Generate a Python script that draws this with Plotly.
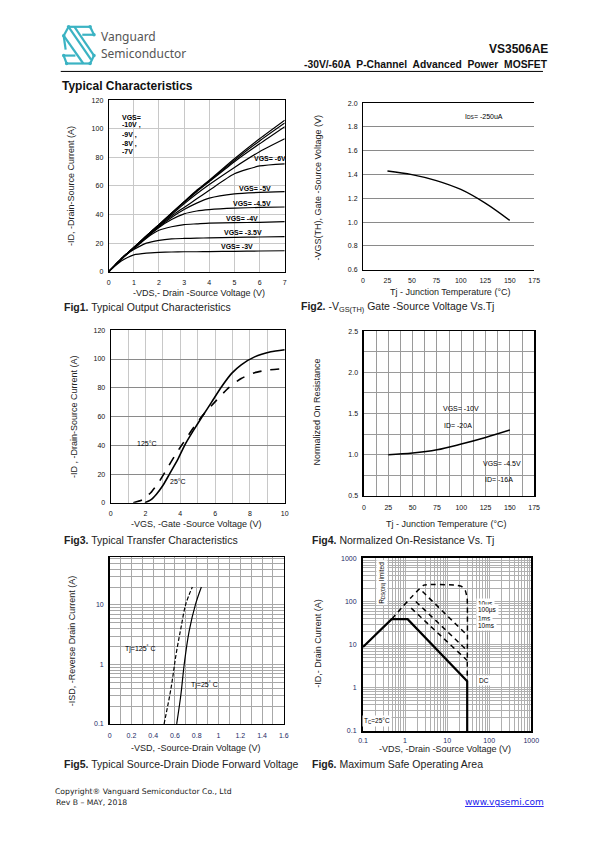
import math
import plotly.graph_objects as go

W, H = 595, 842

# ---------------- DATA ----------------
# Fig1: output characteristics
vds1 = [0, 0.25, 0.5, 0.75, 1, 1.5, 2, 2.5, 3, 3.5, 4, 5, 6, 7]
id_m10 = [0, 4.5, 9, 13, 17, 25, 33, 41, 49, 57, 64, 79, 93, 106]
id_m9 = [0, 4.5, 9, 13, 17, 25, 33, 41, 49, 56.5, 63.5, 78, 91.5, 104]
id_m8 = [0, 4.5, 9, 13, 17, 25, 33, 41, 48.5, 56, 63, 77, 89.5, 101.5]
id_m7 = [0, 4.5, 9, 13, 17, 25, 32.5, 40, 47.5, 54.5, 61, 73, 84, 93]
id_m6 = [0, 4.5, 9, 13, 16.5, 24.5, 32, 39, 45, 51, 57, 68.5, 74, 75.5]
id_m5 = [0, 4.5, 9, 13, 16.5, 24, 31.5, 38, 43.5, 48, 51.5, 54.5, 55.5, 56]
id_m45 = [0, 4.5, 9, 13, 16.5, 24, 31, 36.5, 40.5, 42.5, 43.5, 44.5, 45, 45.3]
id_m4 = [0, 4.5, 9, 13, 16, 23.5, 29, 31.5, 33, 33.5, 34, 34.3, 34.6, 35]
id_m35 = [0, 4.5, 8.5, 12.5, 15.5, 20, 22, 23, 23.3, 23.5, 23.7, 24, 24.3, 24.5]
id_m3 = [0, 4, 7.5, 10, 11.8, 13, 13.5, 13.8, 14, 14, 14.1, 14.3, 14.5, 14.7]
fig1_curves = [id_m10, id_m9, id_m8, id_m7, id_m6, id_m5, id_m45, id_m4, id_m35, id_m3]
fig1_labels = ["VGS= -6V", "VGS= -5V", "VGS= -4.5V", "VGS= -4V", "VGS= -3.5V", "VGS= -3V"]
fig1_label_x = [6.4, 5.8, 5.7, 5.3, 5.35, 5.1]
fig1_label_y = [79, 58.5, 48, 37.5, 27.5, 18]
fig1_stack = ["VGS=", "-10V ,", "-9V ,", "-8V ,", "-7V"]
fig1_stack_y = [108, 102.5, 96, 89.5, 84]

# Fig2: Vgs(th) vs Tj
tj2 = [25, 50, 75, 100, 125, 150]
vth2 = [1.43, 1.40, 1.35, 1.275, 1.16, 1.015]

# Fig3: transfer characteristics
vgs25 = [1.97, 2.3, 2.63, 3.0, 3.38, 3.85, 4.25, 4.74, 5.26, 5.8, 6.33, 6.95, 7.5, 8.27, 9.2, 10]
id25 = [0, 2, 6, 12, 20, 30, 40, 50, 60, 70, 80, 90, 96, 101.5, 105, 106.5]
vgs125 = [1.3, 1.8, 2.3, 2.8, 3.3, 3.8, 4.3, 4.8, 5.3, 5.98, 6.77, 7.5, 8.27, 9.0, 10]
id125 = [0, 2, 7, 15, 25, 35, 44, 53, 61, 70, 80, 86.5, 90.5, 92.3, 93.3]

# Fig4: normalized Rds(on)
tj4 = [25, 50, 75, 100, 125, 150]
rds4 = [1.0, 1.02, 1.06, 1.13, 1.21, 1.30]

# Fig5: diode forward voltage
vsd25 = [0.616, 0.655, 0.685, 0.73, 0.79, 0.843]
isd25 = [0.1, 0.316, 1.0, 3.6, 10.4, 20]
vsd125 = [0.5, 0.565, 0.61, 0.655, 0.70, 0.76]
isd125 = [0.1, 0.41, 1.47, 4.1, 10.4, 20]

# Fig6: SOA
dc_x = [0.1, 0.48, 1.15, 30, 30]
dc_y = [8.8, 39, 39, 1.42, 0.1]
us10_x = [0.48, 2.8, 16, 22, 27, 30, 30]
us10_y = [39, 240, 240, 225, 180, 120, 1.5]
us100_x = [2.6, 30]
us100_y = [170, 16.5]
ms1_x = [1.8, 30]
ms1_y = [100, 7.3]
ms10_x = [1.4, 30]
ms10_y = [70, 4.3]
soa_labels = ["10µs", "100µs", "1ms", "10ms"]
soa_label_y = [87, 62, 40, 28]

# ---------------- HELPERS ----------------
def xd(l, r):
    return [l / W, r / W]

def yd(t, b):
    return [1 - b / H, 1 - t / H]

def px(x):
    return x / W

def py(y):
    return 1 - y / H

NARROW = "Liberation Sans Narrow, Liberation Sans, Arial"
TICKFONT = dict(family=NARROW, size=7, color="#111")
NAVYFONT = dict(family=NARROW, size=7, color="#1c2a66")
LBLFONT = dict(family=NARROW, size=7, color="#000")
TITLEFONT = dict(family="Liberation Sans, Arial", size=9, color="#222")

def axis(domain, anchor, **kw):
    d = dict(domain=domain, anchor=anchor, showline=True, linecolor="black", linewidth=1,
             mirror=True, zeroline=False, ticks="outside", ticklen=4,
             tickcolor="rgba(0,0,0,0)", tickfont=TICKFONT, fixedrange=True)
    d.update(kw)
    return d

fig = go.Figure()

# Fig1 traces
for c in fig1_curves:
    fig.add_trace(go.Scatter(x=vds1, y=c, mode="lines",
                             line=dict(color="black", width=1.2, shape="spline", smoothing=0.6),
                             xaxis="x", yaxis="y", showlegend=False, hoverinfo="skip"))
# Fig2
fig.add_trace(go.Scatter(x=tj2, y=vth2, mode="lines", line=dict(color="black", width=1.3, shape="spline"),
                         xaxis="x2", yaxis="y2", showlegend=False))
# Fig3
fig.add_trace(go.Scatter(x=vgs25, y=id25, mode="lines",
                         line=dict(color="black", width=1.6, shape="spline", smoothing=0.5),
                         xaxis="x3", yaxis="y3", showlegend=False))
fig.add_trace(go.Scatter(x=vgs125, y=id125, mode="lines",
                         line=dict(color="black", width=1.6, dash="dash", shape="spline", smoothing=0.5),
                         xaxis="x3", yaxis="y3", showlegend=False))
# Fig4
fig.add_trace(go.Scatter(x=tj4, y=rds4, mode="lines", line=dict(color="black", width=1.5, shape="spline"),
                         xaxis="x4", yaxis="y4", showlegend=False))
# Fig5
fig.add_trace(go.Scatter(x=vsd25, y=isd25, mode="lines", line=dict(color="black", width=1.2, shape="spline"),
                         xaxis="x5", yaxis="y5", showlegend=False))
fig.add_trace(go.Scatter(x=vsd125, y=isd125, mode="lines",
                         line=dict(color="black", width=1.2, dash="4px,2px", shape="spline"),
                         xaxis="x5", yaxis="y5", showlegend=False))
# Fig6
for xs, ys in [(us10_x, us10_y), (us100_x, us100_y), (ms1_x, ms1_y), (ms10_x, ms10_y)]:
    fig.add_trace(go.Scatter(x=xs, y=ys, mode="lines",
                             line=dict(color="black", width=1.5, dash="5px,4px", shape="spline", smoothing=0.3),
                             xaxis="x6", yaxis="y6", showlegend=False))
fig.add_trace(go.Scatter(x=dc_x, y=dc_y, mode="lines", line=dict(color="black", width=2.2),
                         xaxis="x6", yaxis="y6", showlegend=False))

GRID = "#c8c8c8"
GRID2 = "#9a9a9a"
LOGG = "#b0b0b0"
fig.update_layout(
    width=W, height=H, margin=dict(l=0, r=0, t=0, b=0),
    paper_bgcolor="white", plot_bgcolor="white", showlegend=False,
    xaxis=axis(xd(106, 286), "y", range=[0, 7], dtick=1, tick0=0, showgrid=True, gridcolor=GRID),
    yaxis=axis(yd(97, 270), "x", range=[0, 120], dtick=20, tick0=0, showgrid=True, gridcolor=GRID, ticklen=3),
    xaxis2=axis(xd(366, 541), "y2", range=[0, 175], dtick=25, tick0=0, showgrid=False),
    yaxis2=axis(yd(100, 268), "x2", range=[0.6, 2.0], dtick=0.2, tick0=0.6, tickformat=".1f",
                showgrid=True, gridcolor="#8a8a8a", mirror=False, ticklen=3),
    xaxis3=axis(xd(108, 286), "y3", range=[0, 10], dtick=2, tick0=0, showgrid=True, gridcolor=GRID,
                minor=dict(dtick=1, tick0=0, showgrid=True, gridcolor=GRID)),
    yaxis3=axis(yd(329, 503), "x3", range=[0, 120], dtick=20, tick0=0, showgrid=True, gridcolor="#8a8a8a", ticklen=3),
    xaxis4=axis(xd(367, 541), "y4", range=[0, 175], dtick=25, tick0=0, showgrid=True, gridcolor=GRID2, linewidth=1.5,
                minor=dict(dtick=12.5, tick0=0, showgrid=True, gridcolor=GRID2)),
    yaxis4=axis(yd(330, 496), "x4", range=[0.5, 2.5], dtick=0.5, tick0=0.5, tickformat=".1f",
                showgrid=True, gridcolor=GRID2, linewidth=1.5, ticklen=3,
                minor=dict(dtick=0.25, tick0=0.5, showgrid=True, gridcolor=GRID2)),
    xaxis5=axis(xd(107, 285), "y5", range=[0, 1.6], dtick=0.2, tick0=0, tickformat="~g",
                showgrid=True, gridcolor="#a8a8a8", linewidth=1.5, tickfont=NAVYFONT,
                minor=dict(dtick=0.1, tick0=0, showgrid=True, gridcolor="#a8a8a8")),
    yaxis5=axis(yd(558, 726), "x5", type="log", range=[-1, 1.8], dtick=1, tick0=0, tickformat="~g",
                showgrid=True, gridcolor="#a8a8a8", linewidth=1.5, tickfont=NAVYFONT, ticklen=3,
                minor=dict(dtick="D1", showgrid=True, gridcolor="#a8a8a8")),
    xaxis6=axis(xd(366, 538), "y6", type="log", range=[-1, 3], dtick=1, tick0=0, tickformat="~g",
                showgrid=True, gridcolor=LOGG, linewidth=2, tickfont=NAVYFONT, ticklen=2,
                minor=dict(dtick="D1", showgrid=True, gridcolor=LOGG)),
    yaxis6=axis(yd(559, 733), "x6", type="log", range=[-1, 3], dtick=1, tick0=0, tickformat="~g",
                showgrid=True, gridcolor=LOGG, linewidth=2, tickfont=NAVYFONT, ticklen=3,
                minor=dict(dtick="D1", showgrid=True, gridcolor=LOGG)),
)

ann = []

def A(text, x, y, xref="paper", yref="paper", **kw):
    d = dict(text=text, x=x, y=y, xref=xref, yref=yref, showarrow=False)
    d.update(kw)
    ann.append(d)

# Header
LOGOFONT = dict(family="Noto Sans, Liberation Sans", size=12, color="#555")
A("Vanguard", px(96), py(33), font=LOGOFONT, xanchor="left", yanchor="middle")
A("Semiconductor", px(96), py(50), font=LOGOFONT, xanchor="left", yanchor="middle")
A("<b>VS3506AE</b>", px(557), py(45), font=dict(family="Liberation Sans, Arial", size=12, color="#111"),
  xanchor="right", yanchor="middle")
A("<b>-30V/-60A  P-Channel  Advanced  Power  MOSFET</b>", px(557), py(61),
  font=dict(family="Liberation Sans, Arial", size=10.3, color="#111"), xanchor="right", yanchor="middle")
A("<b>Typical Characteristics</b>", px(56), py(83), font=dict(family="Liberation Sans, Arial", size=12, color="#111"),
  xanchor="left", yanchor="middle")

# Footer
FOOT = dict(family="DejaVu Sans, Verdana", size=7.7, color="#222")
A("Copyright® Vanguard Semiconductor Co., Ltd", px(49), py(794), font=FOOT, xanchor="left", yanchor="middle")
A("Rev B – MAY, 2018", px(50), py(805), font=FOOT, xanchor="left", yanchor="middle")
A("<u>www.vgsemi.com</u>", px(553), py(805), font=dict(family="DejaVu Sans, Verdana", size=9, color="#1a1aee"),
  xanchor="right", yanchor="middle")

# Axis titles and captions
def ytitle(text, x, y):
    A(text, px(x), py(y), font=TITLEFONT, textangle=-90, xanchor="center", yanchor="middle")

def xtitle(text, x, y):
    A(text, px(x), py(y), font=TITLEFONT, xanchor="center", yanchor="middle")

def caption(bold, rest, x, y):
    A("<b>%s</b> %s" % (bold, rest), px(x), py(y), font=dict(family="Liberation Sans, Arial", size=10.5, color="#222"),
      xanchor="left", yanchor="middle")

ytitle("-ID, -Drain-Source Current (A)", 68, 184)
xtitle("-VDS,- Drain -Source Voltage (V)", 198, 291)
caption("Fig1.", "Typical Output Characteristics", 58, 306)

ytitle("-VGS(TH), Gate -Source Voltage (V)", 320, 185)
xtitle("Tj - Junction Temperature (°C)", 455, 290)
caption("Fig2.", "-V<sub>GS(TH)</sub> Gate -Source Voltage Vs.Tj", 301, 306)

ytitle("-ID , -Drain-Source Current (A)", 70, 416)
xtitle("-VGS, -Gate -Source Voltage (V)", 196, 524)
caption("Fig3.", "Typical Transfer Characteristics", 58, 540)

ytitle("Normalized On Resistance", 319, 412)
xtitle("Tj - Junction Temperature (°C)", 451, 524)
caption("Fig4.", "Normalized On-Resistance Vs. Tj", 312, 540)

ytitle("-ISD, -Reverse Drain Current (A)", 68, 642)
xtitle("-VSD, -Source-Drain Voltage (V)", 195, 750)
caption("Fig5.", "Typical Source-Drain Diode Forward Voltage", 58, 766)

ytitle("-ID,- Drain Current (A)", 320, 645)
xtitle("-VDS, -Drain -Source Voltage (V)", 450, 751)
caption("Fig6.", "Maximum Safe Operating Area", 312, 766)

# In-plot labels
for t, xx, yy in zip(fig1_labels, fig1_label_x, fig1_label_y):
    A("<b>%s</b>" % t, xx, yy, "x", "y", font=LBLFONT, xanchor="center", yanchor="middle")
for t, yy in zip(fig1_stack, fig1_stack_y):
    A("<b>%s</b>" % t, 0.45, yy, "x", "y", font=LBLFONT, xanchor="left", yanchor="middle")

A("I<span style='font-size:5px'>DS</span>= -250uA", 124, 1.89, "x2", "y2", font=LBLFONT,
  xanchor="center", yanchor="middle")

A("125°C", 2.1, 41.5, "x3", "y3", font=LBLFONT, xanchor="center", yanchor="middle")
A("25°C", 3.85, 15, "x3", "y3", font=LBLFONT, xanchor="center", yanchor="middle")

A("VGS= -10V", 100, 1.56, "x4", "y4", font=LBLFONT, xanchor="center", yanchor="middle")
A("ID= -20A", 97, 1.36, "x4", "y4", font=LBLFONT, xanchor="center", yanchor="middle")
A("VGS= -4.5V", 142, 0.89, "x4", "y4", font=LBLFONT, xanchor="center", yanchor="middle")
A("ID= -16A", 139, 0.70, "x4", "y4", font=LBLFONT, xanchor="center", yanchor="middle")

A("Tj=125<sup>°</sup> C", 0.285, math.log10(1.85), "x5", "y5", font=LBLFONT, xanchor="center", yanchor="middle")
A("Tj=25<sup>°</sup> C", 0.875, math.log10(0.46), "x5", "y5", font=LBLFONT, xanchor="center", yanchor="middle")

SOAFONT = dict(family=NARROW, size=6.5, color="#000")
for t, yy in zip(soa_labels, soa_label_y):
    A(t, math.log10(48), math.log10(yy), "x6", "y6", font=SOAFONT, xanchor="left", yanchor="middle", bgcolor="white")
A("DC", math.log10(50), math.log10(1.45), "x6", "y6", font=SOAFONT, xanchor="left", yanchor="middle", bgcolor="white")
A("R<sub>DS(ON)</sub> limited", math.log10(0.28), math.log10(270), "x6", "y6", font=SOAFONT, textangle=-90,
  xanchor="center", yanchor="middle", bgcolor="white")
A("T<sub>C</sub>=25°C", math.log10(0.22), math.log10(0.17), "x6", "y6", font=SOAFONT,
  xanchor="center", yanchor="middle", bgcolor="white")

fig.update_layout(annotations=ann)

# Header rule and logo
TEAL = "#3bb3c3"
shapes = [dict(type="line", xref="paper", yref="paper", x0=px(57), x1=px(550), y0=py(68), y1=py(68),
               line=dict(color="black", width=1))]

def seg(x0, y0, x1, y1, w=2.2):
    shapes.append(dict(type="line", xref="paper", yref="paper", x0=px(x0), y0=py(y0), x1=px(x1), y1=py(y1),
                       line=dict(color=TEAL, width=w)))

logo_segs = [
    (65, 23, 87, 23), (87, 23, 91, 31), (65, 23, 60, 32), (60, 32, 62, 46),
    (65, 23, 88, 56), (71, 23, 91, 52), (91, 31, 79, 31),
    (63, 60, 87, 60), (87, 60, 91, 52), (63, 60, 60, 52), (60, 52, 72, 52),
    (60, 32, 80, 60),
]
for s in logo_segs:
    seg(*s)
for (cx, cy) in [(65, 23), (87, 23), (91, 31), (60, 32), (63, 60), (87, 60), (91, 52), (60, 52)]:
    shapes.append(dict(type="circle", xref="paper", yref="paper", x0=px(cx - 1.8), x1=px(cx + 1.8),
                       y0=py(cy + 1.8), y1=py(cy - 1.8), fillcolor=TEAL, line=dict(width=0)))
fig.update_layout(shapes=shapes)

fig.write_html("out.html", config={"staticPlot": True},
               post_script="document.body.style.margin='0';document.body.style.padding='0';"
                           "document.documentElement.style.overflow='hidden';")
